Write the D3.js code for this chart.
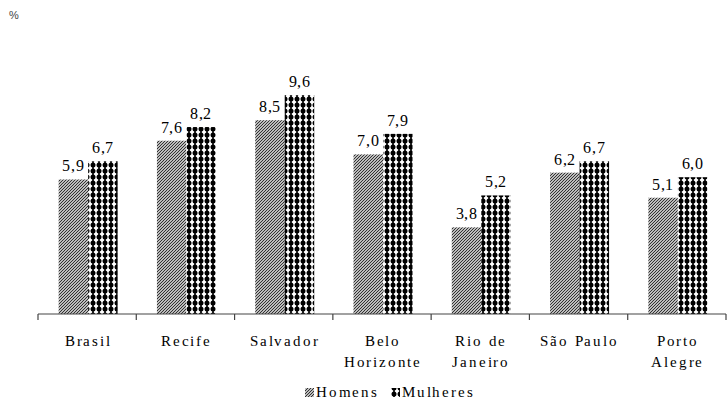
<!DOCTYPE html>
<html>
<head>
<meta charset="utf-8">
<script src="https://cdn.jsdelivr.net/npm/d3@7/dist/d3.min.js"></script>
<style>
  @font-face { font-family: "ChartSerif"; src: local("Liberation Serif"), local("LiberationSerif"), local("Times New Roman"); }
  html, body { margin: 0; padding: 0; background: #fff; }
  svg { display: block; }
</style>
</head>
<body>
<svg id="chart" width="727" height="402"></svg>
<script>
// Unemployment rate by sex, Brazil and metropolitan regions (%)
const categories = [["Brasil"], ["Recife"], ["Salvador"], ["Belo", "Horizonte"], ["Rio de", "Janeiro"], ["São Paulo"], ["Porto", "Alegre"]];
const homens   = [5.9, 7.6, 8.5, 7.0, 3.8, 6.2, 5.1];
const mulheres = [6.7, 8.2, 9.6, 7.9, 5.2, 6.7, 6.0];
const seriesNames = ["Homens", "Mulheres"];

const SERIF = "ChartSerif, 'Liberation Serif', 'Times New Roman', serif";
const SANS = "'Liberation Sans', Arial, sans-serif";

function draw() {
  const svg = d3.select("#chart");
  svg.selectAll("*").remove();

  const margin = { left: 38, right: 1, top: 86, bottom: 88 };
  const W = 727, H = 402;
  const baseY = H - margin.bottom;

  const defs = svg.append("defs");
  // diagonal hatching
  const hatch = defs.append("pattern").attr("id", "hatch").attr("patternUnits", "userSpaceOnUse")
    .attr("width", 3).attr("height", 3);
  hatch.append("rect").attr("width", 3).attr("height", 3).attr("fill", "#fff");
  hatch.append("path").attr("d", "M-1,1 L1,-1 M0,3 L3,0 M2,4 L4,2")
    .attr("stroke", "#2a2a2a").attr("stroke-width", 1.2);
  // dotted check
  const dots = defs.append("pattern").attr("id", "dots").attr("patternUnits", "userSpaceOnUse")
    .attr("width", 6).attr("height", 6);
  dots.append("rect").attr("width", 6).attr("height", 6).attr("fill", "#fff");
  dots.append("circle").attr("cx", 3).attr("cy", 3).attr("r", 2.5).attr("fill", "#000");
  dots.append("rect").attr("x", 2.2).attr("y", 0).attr("width", 1.6).attr("height", 6).attr("fill", "#000");

  const fills = ["url(#hatch)", "url(#dots)"];

  const x = d3.scaleBand().domain(d3.range(categories.length))
    .range([margin.left, W - margin.right]).padding(0);
  const y = d3.scaleLinear().domain([0, 10]).range([baseY, margin.top]);
  const barW = 29.5;

  const cells = categories.flatMap((c, i) => [homens[i], mulheres[i]].map((v, k) => ({ i, k, v })));
  const barX = d => x(d.i) + x.bandwidth() / 2 + 1 - barW + d.k * barW;

  // bars
  svg.append("g").selectAll("rect").data(cells).join("rect")
    .attr("x", barX).attr("y", d => y(d.v))
    .attr("width", barW).attr("height", d => baseY - y(d.v))
    .attr("fill", d => fills[d.k]);

  // value labels
  svg.append("g").selectAll("text").data(cells).join("text")
    .attr("x", d => barX(d) + barW / 2).attr("y", d => y(d.v) - 8)
    .attr("text-anchor", "middle")
    .style("font-family", SERIF).style("font-size", "16px")
    .style("letter-spacing", "0.6px")
    .text(d => d3.format(".1f")(d.v).replace(".", ","));

  // category axis
  const axis = d3.axisBottom(x).tickSize(0).tickFormat("");
  const ax = svg.append("g").attr("transform", `translate(0,${baseY})`).call(axis);
  ax.select(".domain").attr("stroke", "#444").attr("stroke-width", 1.2)
    .attr("d", `M${margin.left},0H${W - margin.right}`);
  const tickPos = d3.range(categories.length + 1).map(i => margin.left + i * x.bandwidth());
  ax.selectAll("line.sep").data(tickPos).join("line").attr("class", "sep")
    .attr("x1", d => d).attr("x2", d => d).attr("y1", 0).attr("y2", 6)
    .attr("stroke", "#444").attr("stroke-width", 1.2);

  const catLabels = svg.append("g").selectAll("text").data(categories).join("text")
    .attr("x", (d, i) => x(i) + x.bandwidth() / 2 + 1)
    .attr("y", baseY + 32)
    .attr("text-anchor", "middle")
    .style("font-family", SERIF).style("font-size", "15px")
    .style("letter-spacing", "1.8px");
  catLabels.each(function(d) {
    const t = d3.select(this);
    d.forEach((line, j) => {
      t.append("tspan").attr("x", t.attr("x")).attr("dy", j === 0 ? 0 : 21).text(line);
    });
  });

  // unit label
  svg.append("text").attr("x", 9).attr("y", 19)
    .style("font-family", SANS).style("font-size", "11px")
    .attr("fill", "#444").text("%");

  // legend
  const legendX = [305, 391];
  const legend = svg.append("g").selectAll("g").data(seriesNames).join("g")
    .attr("transform", (d, i) => `translate(${legendX[i]},${H - 5})`);
  legend.append("rect").attr("x", 0).attr("y", -9).attr("width", 9).attr("height", 9)
    .attr("fill", (d, i) => fills[i]);
  legend.append("text").attr("x", 11).attr("y", 0)
    .style("font-family", SERIF).style("font-size", "15px")
    .style("letter-spacing", "1.8px")
    .text(d => d);
}

draw();
if (document.fonts && document.fonts.load) {
  document.fonts.load("15px ChartSerif").then(draw, () => {});
}
</script>
</body>
</html>
